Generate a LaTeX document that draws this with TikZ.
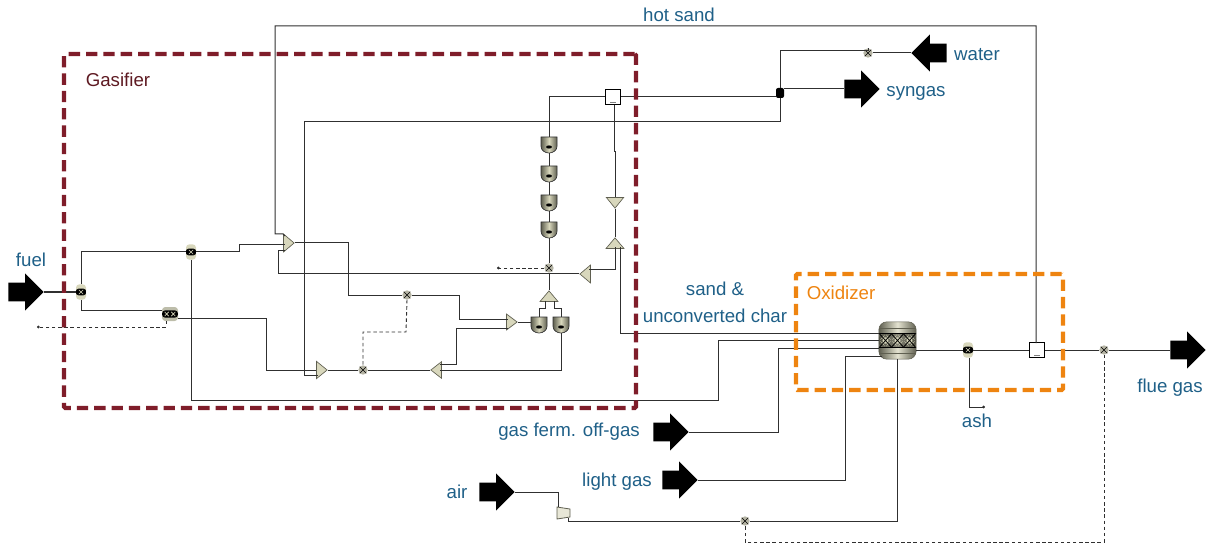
\documentclass[tikz,border=0pt]{standalone}
\usepackage{fontspec}
\setmainfont{Liberation Sans}
\usetikzlibrary{arrows.meta,calc,shapes.geometric,shapes.arrows}
\definecolor{tagblue}{HTML}{1F6088}
\definecolor{gasred}{HTML}{7F1D2A}
\definecolor{gastext}{HTML}{5E1A22}
\definecolor{oxorange}{HTML}{EE8410}
\definecolor{strmgray}{HTML}{303030}
\definecolor{icon}{HTML}{D8D7BC}
\definecolor{icondark}{HTML}{5F5F50}
\tikzset{
  strm/.style={line width=.75pt, draw=strmgray},
  ctrl/.style={line width=.7pt, draw=strmgray, dash pattern=on 2.6pt off 2pt},
  feed/.style={single arrow, fill=black, draw=none, inner xsep=0pt, inner ysep=6.75pt, minimum height=26.5pt, single arrow head extend=7pt, single arrow tip angle=90, anchor=tip},
  tag/.style={font=\fontsize{14}{20}\selectfont, text=tagblue, inner sep=0pt, align=center},
  zone/.style={line width=3.2pt, rounded corners=1pt, dash pattern=on 8.5pt off 4.5pt, inner sep=0pt},
  tri/.style={isosceles triangle, isosceles triangle stretches, inner sep=0pt, draw=icondark, line width=.5pt, fill=icon, shape border rotate=#1, anchor=apex},
  calcnode/.style={circle, inner sep=0pt, minimum size=7pt, fill=icon!60!gray, path picture={
    \draw[black, line width=.35pt] (path picture bounding box.south west) -- (path picture bounding box.north east)
      (path picture bounding box.north west) -- (path picture bounding box.south east);}},
  sepcap/.style={rectangle, rounded corners=2.5pt, inner sep=0pt, minimum width=7.5pt, minimum height=11.5pt, fill=icon, path picture={
    \coordinate (sc) at (path picture bounding box.center);
    \fill[black] ($(sc)+(-4pt,-2.6pt)$) rectangle ($(sc)+(4pt,2.6pt)$);
    \draw[icon, line width=.5pt] ($(sc)+(-1.6pt,-1.6pt)$) -- ($(sc)+(1.6pt,1.6pt)$) ($(sc)+(-1.6pt,1.6pt)$) -- ($(sc)+(1.6pt,-1.6pt)$);}},
  gibbsnode/.style={rectangle, rounded corners=2.5pt, inner sep=0pt, minimum width=12pt, minimum height=10.5pt, fill=icon!70!gray, path picture={
    \coordinate (gc) at (path picture bounding box.center);
    \fill[black] ($(gc)+(-6pt,-2.8pt)$) rectangle ($(gc)+(6pt,2.8pt)$);
    \draw[icon, line width=.5pt] ($(gc)+(-4pt,-1.6pt)$) -- ($(gc)+(-1pt,1.6pt)$) ($(gc)+(-4pt,1.6pt)$) -- ($(gc)+(-1pt,-1.6pt)$)
      ($(gc)+(1pt,-1.6pt)$) -- ($(gc)+(4pt,1.6pt)$) ($(gc)+(1pt,1.6pt)$) -- ($(gc)+(4pt,-1.6pt)$);}},
  mixbox/.style={rectangle, draw=black, line width=.85pt, fill=white, inner sep=0pt, minimum size=11.5pt, path picture={
    \draw[gray, line width=.4pt] ($(path picture bounding box.south)+(-2pt,1.5pt)$) -- ($(path picture bounding box.south)+(2pt,1.5pt)$);}},
  reactor/.style={rectangle, rounded corners=6pt, inner sep=0pt, minimum width=28pt, minimum height=28pt, draw=icondark, line width=.4pt, left color=icondark, right color=icondark, middle color=icon!70!white, path picture={
    \coordinate (rc) at (path picture bounding box.center);
    \fill[icondark!70!black, opacity=.6] ($(rc)+(-15pt,-5pt)$) rectangle ($(rc)+(15pt,5pt)$);
    \draw[black, line width=.6pt] ($(rc)+(-15pt,5pt)$) -- ($(rc)+(15pt,5pt)$) ($(rc)+(-15pt,-5pt)$) -- ($(rc)+(15pt,-5pt)$);
    \draw[icondark, line width=.5pt] ($(rc)+(-15pt,9.5pt)$) -- ($(rc)+(15pt,9.5pt)$) ($(rc)+(-15pt,-9.5pt)$) -- ($(rc)+(15pt,-9.5pt)$);
    \foreach \i in {-1,0,1} {
      \fill[icon] ($(rc)+(\i*9pt,-5pt)$) -- ($(rc)+(\i*9pt+4.5pt,0pt)$) -- ($(rc)+(\i*9pt,5pt)$) -- ($(rc)+(\i*9pt-4.5pt,0pt)$) -- cycle;
      \draw[black, line width=.6pt] ($(rc)+(\i*9pt-4.5pt,-5pt)$) -- ($(rc)+(\i*9pt+4.5pt,5pt)$) ($(rc)+(\i*9pt-4.5pt,5pt)$) -- ($(rc)+(\i*9pt+4.5pt,-5pt)$);}}},
  junc/.style={rectangle, rounded corners=1.5pt, fill=black, inner sep=0pt, minimum width=6pt, minimum height=7.5pt},
  comprbody/.style={draw=icondark, line width=.6pt, fill=icon!60!white},
}
\newcommand{\drums}[1]{%
  \foreach \name/\x/\y in {#1} {%
    \coordinate (\name) at (\x,\y);
    \coordinate (\name-top) at (\x,\y-8);
    \coordinate (\name-bot) at (\x,\y+8);
    \shade[left color=icondark, right color=icondark, middle color=icon, draw=strmgray, line width=.5pt]
      ($(\name)+(-6pt,6pt)$) -- ($(\name)+(6pt,6pt)$) -- ($(\name)+(6pt,-1pt)$)
      to[out=-90,in=0] ($(\name)+(0pt,-6pt)$) to[out=180,in=-90] ($(\name)+(-6pt,-1pt)$) -- cycle;
    \fill[black] ($(\name)+(0pt,-1.5pt)$) ellipse (2.2pt and 1.2pt);
  }}

\begin{document}
\begin{tikzpicture}[x=0.75pt,y=-0.75pt]
  \useasboundingbox (0,0) rectangle (1206,545);
  % feeds and products
  \node[feed] (fuelin) at (44,292) {};
  \node[feed] (syngasout) at (880,89) {};
  \node[feed] (flueout) at (1206,350) {};
  \node[feed, shape border rotate=180] (waterin) at (911,53) {};
  \node[feed] (offgasin) at (689,432) {};
  \node[feed] (lightin) at (698,480) {};
  \node[feed] (airin) at (515,492) {};
  % gasifier blocks
  \node[sepcap] (splita) at (81,292) {};
  \node[sepcap] (splitb) at (191,252) {};
  \node[gibbsnode] (gibbs) at (170,314) {};
  \node[tri=0, minimum width=13.5pt, minimum height=8pt] (mixa) at (295,243) {};
  \node[tri=0, minimum width=13pt, minimum height=8pt] (mixb) at (328,370) {};
  \node[tri=180, minimum width=12.5pt, minimum height=8pt] (mixc) at (430,370) {};
  \node[tri=0, minimum width=12pt, minimum height=8pt] (mixd) at (518,322) {};
  \node[tri=90, minimum width=13.5pt, minimum height=8pt] (mixe) at (549,290) {};
  \node[tri=180, minimum width=13.5pt, minimum height=8pt] (mixf) at (579,274) {};
  \node[tri=90, minimum width=13.5pt, minimum height=8pt] (mixg) at (615,237) {};
  \node[tri=270, minimum width=13pt, minimum height=8pt] (mixh) at (615,209) {};
  \drums{cupa/549/145, cupb/549/174, cupc/549/203, cupd/549/230, cupe/539/325, cupf/561/325}
  \node[calcnode] (calca) at (407,295) {};
  \node[calcnode] (calcb) at (363,370) {};
  \node[calcnode] (calcc) at (549,268) {};
  \node[mixbox] (hotbox) at (613,97) {};
  \node[junc] (synjunc) at (780,93) {};
  \node[calcnode] (calcw) at (868,53) {};
  % oxidizer blocks
  \node[reactor] (oxid) at (897.5,340.5) {};
  \node[sepcap] (splitc) at (968,350) {};
  \node[mixbox] (fluebox) at (1037,350) {};
  \node[calcnode] (calcf) at (1104,350) {};
  \draw[comprbody] (557,507) -- (570,509) -- (570,517) -- (557,519) -- cycle;
  \node[calcnode] (calcair) at (745,521) {};
  % free ends
  \foreach \name/\x/\y in {gibbsin/162/310, gibbsout/178/318, gibbsdrop/166/321, purgeend/37/327,
      mixatop/285/236, mixalow/285/251, mixblow/318/375, mixdtop/508/319, mixdlow/508/328,
      mixcout/440/364, mixcin/440/370, mixfout/589/270, mixgin/620/247, hotdown/614/105,
      oxa/879/333, oxb/879/340, oxc/879/348, oxd/882/356, oxout/916/350, airfanin/558/507, airfanout/568/518,
      splitdrop/969/358, ashend/985/407, hotend/1036/343, purgeb/497/268, synout/784/89, synin/776/97,
      hotout/621/97, hotleft/605/97} {
    \coordinate (\name) at (\x,\y);
  }
  % streams
  \draw[strm] (fuelin.tip) -- (splita.west);
  \draw[strm] (splita.north) |- (splitb.west);
  \draw[strm] (splita.south) |- (gibbsin);
  \draw[ctrl, -{Circle[length=2pt]}] (gibbsdrop) -- (166,327) -- (purgeend);
  \draw[strm] (gibbsout) -- (266,318) -- (266,370) -- (mixb.lower side);
  \draw[strm] (splitb.east) -- (239,252) -- (239,245) -- (285,245);
  \draw[strm] (splitb.south) -- (191,400) -- (718,400) -- (718,340) -- (oxb);
  \draw[strm] (hotend) -- (1036,26) -- (275,26) -- (275,234) -- (283,234) -- (mixatop);
  \draw[strm] (mixf.apex) -- (278,274) -- (278,251) -- (mixalow);
  \draw[strm] (mixa.apex) -- (348,243) -- (348,295) -- (calca.west);
  \draw[strm] (calca.east) -- (459,295) -- (459,319) -- (mixdtop);
  \draw[strm] (mixb.apex) -- (calcb.west);
  \draw[strm] (mixc.apex) -- (calcb.east);
  \draw[strm] (mixcout) -- (456,364) -- (456,328) -- (mixdlow);
  \draw[strm] (cupf-bot) -- (561,370) -- (mixcin);
  \draw[strm] (mixd.apex) -- (531,322);
  \draw[strm] (cupe-top) -- (539,308) -- (545,308) -- (545,301);
  \draw[strm] (cupf-top) -- (561,308) -- (554,308) -- (554,301);
  \draw[strm] (mixe.apex) -- (calcc.south);
  \draw[strm] (calcc.north) -- (cupd-bot);
  \draw[strm] (cupd-top) -- (cupc-bot);
  \draw[strm] (cupc-top) -- (cupb-bot);
  \draw[strm] (cupb-top) -- (cupa-bot);
  \draw[strm] (cupa-top) -- (549,97) -- (hotleft);
  \draw[strm] (hotdown) -- (614,152) -- (615,152) -- (mixh.lower side);
  \draw[strm] (mixh.apex) -- (mixg.apex);
  \draw[strm] (mixgin) -- (620,333) -- (oxa);
  \draw[strm] (mixfout) -- (615,270) -- (615,247);
  \draw[strm] (hotout) -- (synin);
  \draw[strm] (synjunc.south) -- (780,122) -- (304,122) -- (304,375) -- (mixblow);
  \draw[strm] (synout) -- (syngasout.tail);
  \draw[strm] (synjunc.north) -- (780,51) -- (868,51) -- (calcw.north);
  \draw[strm] (waterin.tip) -- (calcw.east);
  \draw[ctrl] (calca.south) -- (406,332) -- (363,332) -- (calcb.north);
  \draw[ctrl, -{Circle[length=2pt]}] (calcc.west) -- (purgeb);
  \draw[strm] (offgasin.tip) -- (778,432) -- (778,348) -- (oxc);
  \draw[strm] (lightin.tip) -- (845,480) -- (845,356) -- (oxd);
  \draw[strm] (airin.tip) -- (558,492) -- (airfanin);
  \draw[strm] (airfanout) -- (568,521) -- (calcair.west);
  \draw[strm] (calcair.east) -| (oxid.south);
  \draw[strm] (oxout) -- (splitc.west);
  \draw[strm] (splitc.east) -- (fluebox.west);
  \draw[strm, -{Circle[length=2pt]}] (splitdrop) -- (969,407) -- (ashend);
  \draw[strm] (fluebox.east) -- (calcf.west);
  \draw[strm] (calcf.east) -- (flueout.tail);
  \draw[ctrl] (calcf.south) -- (1104,542) -- (745,542) -- (calcair.south);
  % section frames
  \node[zone, draw=gasred, minimum width=429pt, minimum height=265.5pt] (gasifier) at (350,231) {};
  \node[zone, draw=oxorange, minimum width=200.25pt, minimum height=87pt] (oxidizer) at (929.5,332) {};
  % labels
  \node[tag] (hotsandtag) at (679,15) {hot sand};
  \node[tag] (watertag) at (977,55) {water};
  \node[tag] (syngastag) at (916,93) {syngas};
  \node[tag] (fueltag) at (31,260) {fuel};
  \node[tag, text=gastext] (gasifiertag) at (118,80) {Gasifier};
  \node[tag] (chartag) at (715,302.5) {sand \&\\unconverted char};
  \node[tag, text=oxorange] (oxidizertag) at (841,293) {Oxidizer};
  \node[tag] (fluetag) at (1170,388) {flue gas};
  \node[tag] (ashtag) at (977,421) {ash};
  \node[tag] (offgastag) at (569,432) {gas ferm. off-gas};
  \node[tag] (lighttag) at (617,482) {light gas};
  \node[tag] (airtag) at (457,492) {air};
\end{tikzpicture}
\end{document}
